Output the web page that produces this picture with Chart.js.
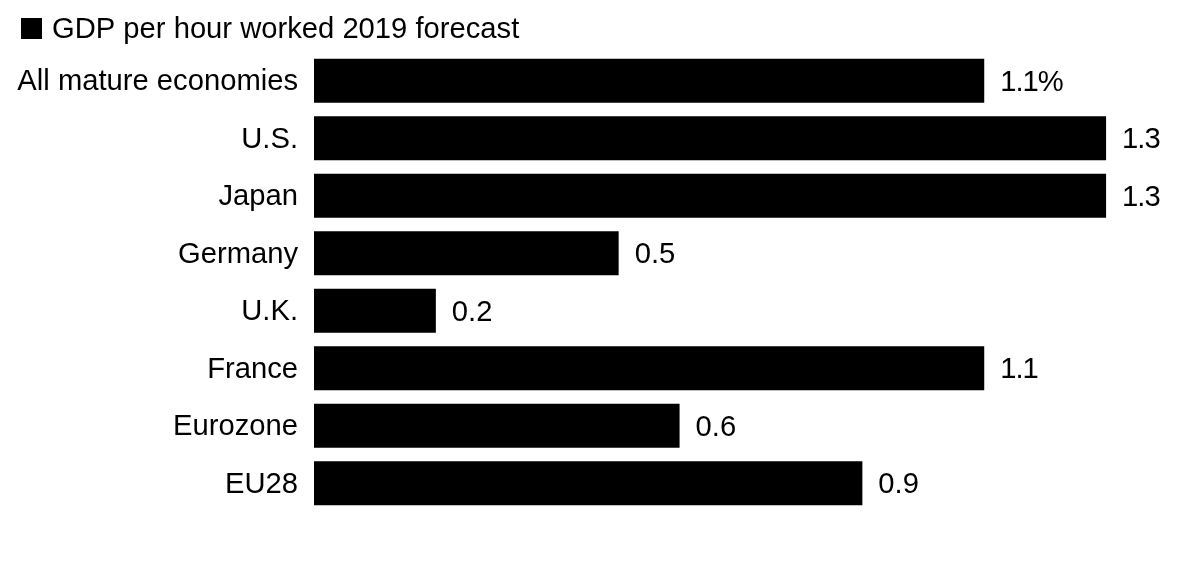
<!DOCTYPE html>
<html>
<head>
<meta charset="utf-8">
<style>
  html, body { margin: 0; padding: 0; background: #fff; }
  #wrap { width: 1192px; height: 588px; }
  canvas { display: block; }
</style>
<script src="https://cdn.jsdelivr.net/npm/chart.js@4/dist/chart.umd.min.js"></script>
</head>
<body>
<div id="wrap"><canvas id="chart" width="1192" height="588"></canvas></div>
<script>
const categories = ['All mature economies', 'U.S.', 'Japan', 'Germany', 'U.K.', 'France', 'Eurozone', 'EU28'];
const values = [1.1, 1.3, 1.3, 0.5, 0.2, 1.1, 0.6, 0.9];
const valueLabels = ['1.1%', '1.3', '1.3', '0.5', '0.2', '1.1', '0.6', '0.9'];
const seriesName = 'GDP per hour worked 2019 forecast';
const fontFamily = '"Liberation Sans", sans-serif';
const fontSize = 29.2;

// draws the legend row and the number just right of each bar
const barLabels = {
  id: 'barLabels',
  // tick labels sit a touch lower than the bar centres
  beforeDraw(chart) {
    chart.ctx.save();
    chart.ctx.translate(0, 1.5);
  },
  beforeDatasetsDraw(chart) {
    chart.ctx.restore();
  },
  afterDatasetsDraw(chart) {
    const ctx = chart.ctx;
    ctx.save();
    ctx.font = fontSize + 'px ' + fontFamily;
    ctx.fillStyle = '#000';
    ctx.textBaseline = 'middle';

    ctx.fillRect(21, 18, 21, 21);
    ctx.fillText(seriesName, 52, 30);

    chart.getDatasetMeta(0).data.forEach((bar, i) => {
      // the ones are narrower in the reference
      ctx.letterSpacing = valueLabels[i].includes('1') ? '-1px' : '0px';
      ctx.fillText(valueLabels[i], bar.x + 16, bar.y + 2);
    });
    ctx.restore();
  }
};

new Chart(document.getElementById('chart'), {
  type: 'bar',
  plugins: [barLabels],
  data: {
    labels: categories,
    datasets: [{
      label: seriesName,
      data: values,
      backgroundColor: '#000',
      categoryPercentage: 1,
      barPercentage: 0.765
    }]
  },
  options: {
    indexAxis: 'y',
    responsive: false,
    animation: false,
    layout: { padding: { top: 52, bottom: 76, left: 0, right: 0 } },
    plugins: {
      tooltip: { enabled: false },
      legend: { display: false }
    },
    scales: {
      x: {
        display: false,
        min: 0,
        max: 1.441
      },
      y: {
        afterFit(axis) { axis.width = 314; },
        grid: { display: false },
        border: { display: false },
        ticks: {
          color: '#000',
          padding: 8,
          font: { family: fontFamily, size: fontSize }
        }
      }
    }
  }
});
</script>
</body>
</html>
